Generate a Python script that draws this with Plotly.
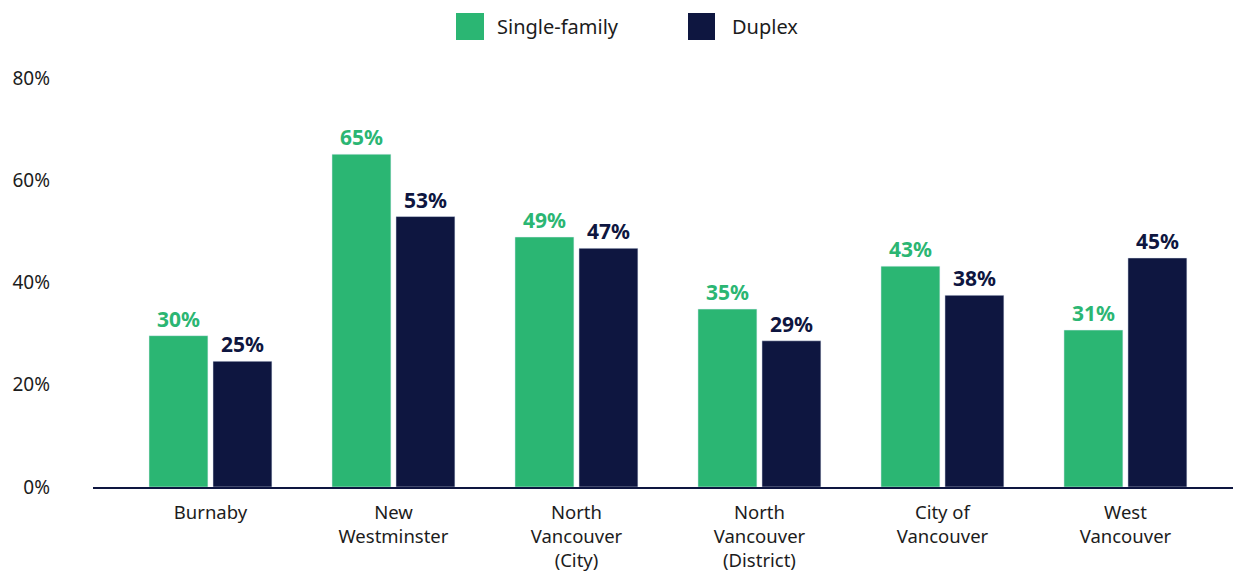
import plotly.graph_objects as go

categories = ["Burnaby", "New<br>Westminster", "North<br>Vancouver<br>(City)",
              "North<br>Vancouver<br>(District)", "City of<br>Vancouver", "West<br>Vancouver"]
single_family = [29.6, 65.1, 48.9, 34.8, 43.2, 30.7]
duplex = [24.6, 52.9, 46.7, 28.6, 37.5, 44.8]
series_names = ["Single-family", "Duplex"]
y_ticks = [0, 20, 40, 60, 80]
y_tick_labels = ["0%", "20%", "40%", "60%", "80%"]

GREEN = "#2BB673"
NAVY = "#0E1640"
TEXT = "#1c1c1c"
FONT = "Noto Sans"

x_idx = list(range(len(categories)))

# figure is drawn inside the page's 8px body margin
W, H = 1233, 563
L, T, R, B = 85, 70, 1, 84
plot_w = W - L - R
plot_h = H - T - B


def px_x(screen_x):
    return (screen_x - 8 - L) / plot_w


def px_y(screen_y):
    return (H - B - (screen_y - 8)) / plot_h


fig = go.Figure()
for vals, color, name, off in [(single_family, GREEN, series_names[0], -0.336),
                               (duplex, NAVY, series_names[1], 0.0137)]:
    fig.add_trace(go.Bar(
        x=x_idx, y=vals, name=name, marker_color=color,
        width=0.322, offset=off,
        texttemplate="%{y:.0f}%", textposition="outside",
        textfont=dict(family=FONT, size=21, color=color, weight="bold"),
        cliponaxis=False, showlegend=False,
    ))

fig.update_layout(
    width=W, height=H,
    margin=dict(l=L, r=R, t=T, b=B, autoexpand=False),
    paper_bgcolor="white", plot_bgcolor="white",
    font=dict(family=FONT, size=19, color=TEXT),
    barmode="overlay",
    xaxis=dict(
        tickmode="array", tickvals=x_idx, ticktext=categories,
        range=[-0.642, 5.626], showgrid=False, zeroline=False,
        showline=True, linecolor=NAVY, linewidth=2,
        tickfont=dict(family=FONT, size=18.5, color=TEXT), ticks="",
        ticklabelstandoff=8, automargin=False,
    ),
    yaxis=dict(
        range=[0, 80], tickmode="array", tickvals=y_ticks, ticktext=y_tick_labels,
        showgrid=False, zeroline=False, showline=False, ticks="",
        tickfont=dict(family=FONT, size=19, color=TEXT),
        ticklabelstandoff=42, automargin=False,
    ),
)

# Legend drawn in paper coordinates
legend_items = [(series_names[0], GREEN, 456, 484, 495),
                (series_names[1], NAVY, 688, 715, 730)]
for name, color, sx0, sx1, stx in legend_items:
    fig.add_shape(type="rect", xref="paper", yref="paper",
                  x0=px_x(sx0), x1=px_x(sx1), y0=px_y(40), y1=px_y(13),
                  fillcolor=color, line=dict(width=0))
    fig.add_annotation(xref="paper", yref="paper", x=px_x(stx), y=px_y(26.5),
                       text=name, showarrow=False, xanchor="left", yanchor="middle",
                       font=dict(family=FONT, size=20, color=TEXT))

fig.write_html("out.html")
